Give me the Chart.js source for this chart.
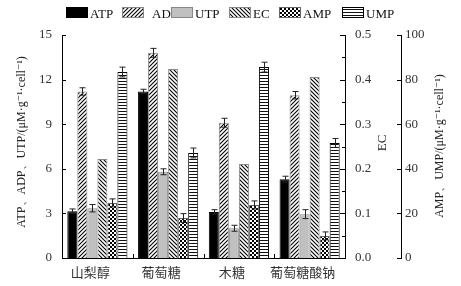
<!DOCTYPE html>
<html>
<head>
<meta charset="utf-8">
<script src="https://cdn.jsdelivr.net/npm/chart.js@4.4.0/dist/chart.umd.min.js"></script>
<style>
    html, body { margin: 0; padding: 0; background: #fff; }
</style>
</head>
<body>
<canvas id="chart" width="461" height="286"></canvas>
<script>
// data
const categories = ['山梨醇', '葡萄糖', '木糖', '葡萄糖酸钠'];
const atp = [3.15, 11.2, 3.1, 5.3];
const atpErr = [0.15, 0.15, 0.15, 0.2];
const adp = [11.2, 13.8, 9.1, 10.95];
const adpErr = [0.25, 0.3, 0.3, 0.25];
const utp = [3.35, 5.8, 2.0, 2.95];
const utpErr = [0.25, 0.2, 0.2, 0.3];
const ec = [0.222, 0.424, 0.211, 0.406];
const amp = [24.7, 17.9, 23.8, 9.9];
const ampErr = [1.8, 2.0, 1.8, 1.8];
const ump = [83.4, 47.1, 85.6, 51.6];
const umpErr = [2.2, 2.2, 2.2, 2.0];

const SERIF = "'Liberation Serif', 'DejaVu Serif', serif";
const CJK = "'Noto Sans CJK SC', sans-serif";

function makePattern(w, h, draw) {
    const c = document.createElement('canvas');
    c.width = w; c.height = h;
    const g = c.getContext('2d');
    g.fillStyle = '#fff';
    g.fillRect(0, 0, w, h);
    draw(g);
    return g.createPattern(c, 'repeat');
}

const fwdHatch = makePattern(4, 4, g => {
    g.strokeStyle = '#000'; g.lineWidth = 1.1;
    g.beginPath();
    g.moveTo(-1, 5); g.lineTo(5, -1);
    g.moveTo(-1, 1); g.lineTo(1, -1);
    g.moveTo(3, 5); g.lineTo(5, 3);
    g.stroke();
});
const backHatch = makePattern(4, 4, g => {
    g.strokeStyle = '#000'; g.lineWidth = 1.1;
    g.beginPath();
    g.moveTo(-1, -1); g.lineTo(5, 5);
    g.moveTo(3, -1); g.lineTo(5, 1);
    g.moveTo(-1, 3); g.lineTo(1, 5);
    g.stroke();
});
const checker = makePattern(4, 4, g => {
    g.fillStyle = '#000';
    g.fillRect(0, 0, 2, 2);
    g.fillRect(2, 2, 2, 2);
});
const hLines = makePattern(4, 3, g => {
    g.fillStyle = '#111';
    g.fillRect(0, 0, 4, 1);
});

const datasets = [
    { label: 'ATP', data: atp, errors: atpErr, yAxisID: 'y', backgroundColor: '#000', borderColor: '#000' },
    { label: 'ADP', data: adp, errors: adpErr, yAxisID: 'y', backgroundColor: fwdHatch, borderColor: '#888' },
    { label: 'UTP', data: utp, errors: utpErr, yAxisID: 'y', backgroundColor: '#c0c0c0', borderColor: '#888' },
    { label: 'EC', data: ec, yAxisID: 'y1', backgroundColor: backHatch, borderColor: '#888' },
    { label: 'AMP', data: amp, errors: ampErr, yAxisID: 'y2', backgroundColor: checker, borderColor: '#666' },
    { label: 'UMP', data: ump, errors: umpErr, yAxisID: 'y2', backgroundColor: hLines, borderColor: '#000' }
];
datasets.forEach(d => { d.borderWidth = 1; d.categoryPercentage = 0.85; d.barPercentage = 1.0; });

// legend box positions
const legendX = [66, 122, 171, 229, 279, 342];

const errorBars = {
    id: 'errorBars',
    afterDatasetsDraw(chart) {
        const ctx = chart.ctx;
        ctx.save();
        ctx.strokeStyle = '#222';
        ctx.lineWidth = 1;
        chart.data.datasets.forEach((ds, i) => {
            if (!ds.errors) return;
            const meta = chart.getDatasetMeta(i);
            const scale = chart.scales[ds.yAxisID];
            meta.data.forEach((bar, j) => {
                const x = Math.round(bar.x) + 0.5;
                const top = scale.getPixelForValue(ds.data[j] + ds.errors[j]);
                const bot = scale.getPixelForValue(ds.data[j] - ds.errors[j]);
                ctx.beginPath();
                ctx.moveTo(x, top); ctx.lineTo(x, bot);
                ctx.moveTo(x - 3, top); ctx.lineTo(x + 3, top);
                ctx.moveTo(x - 3, bot); ctx.lineTo(x + 3, bot);
                ctx.stroke();
            });
        });
        ctx.restore();
    }
};

const decorations = {
    id: 'decorations',
    afterDraw(chart) {
        const ctx = chart.ctx;
        const { y, y1, y2, x } = chart.scales;
        const area = chart.chartArea;
        ctx.save();
        ctx.strokeStyle = '#000';
        ctx.lineWidth = 1;
        ctx.beginPath();
        // inward ticks
        y.ticks.forEach(t => {
            const py = Math.round(y.getPixelForValue(t.value)) + 0.5;
            ctx.moveTo(area.left, py); ctx.lineTo(area.left + 4, py);
        });
        for (let v = 0; v <= 0.5001; v += 0.05) {
            const py = Math.round(y1.getPixelForValue(v)) + 0.5;
            const major = Math.round(v * 100) % 10 === 0;
            ctx.moveTo(area.right, py); ctx.lineTo(area.right - (major ? 5 : 3), py);
        }
        y2.ticks.forEach(t => {
            const py = Math.round(y2.getPixelForValue(t.value)) + 0.5;
            ctx.moveTo(y2.left, py); ctx.lineTo(y2.left - 4, py);
        });
        for (let i = 1; i < categories.length; i++) {
            const px = Math.round((x.getPixelForValue(i - 1) + x.getPixelForValue(i)) / 2) + 0.5;
            ctx.moveTo(px, area.bottom); ctx.lineTo(px, area.bottom - 4);
        }
        ctx.stroke();

        // axis titles, all reading bottom to top
        ctx.fillStyle = '#222';
        ctx.textAlign = 'center';
        ctx.textBaseline = 'middle';
        const vText = (txt, cx, cy, font) => {
            ctx.save();
            ctx.translate(cx, cy);
            ctx.rotate(-Math.PI / 2);
            ctx.font = font;
            ctx.fillText(txt, 0, 0);
            ctx.restore();
        };
        vText('ATP、ADP、UTP/(μM·g⁻¹·cell⁻¹)', 22, 142, '12px ' + SERIF);
        vText('EC', 383, 143, '13px ' + SERIF);
        vText('AMP、UMP/(μM·g⁻¹·cell⁻¹)', 440, 146, '12px ' + SERIF);

        // legend
        ctx.textAlign = 'left';
        ctx.textBaseline = 'alphabetic';
        ctx.font = '13px ' + SERIF;
        chart.data.datasets.forEach((ds, i) => {
            const bx = legendX[i];
            ctx.fillStyle = ds.backgroundColor;
            ctx.fillRect(bx, 7, 22, 11);
            ctx.strokeStyle = ds.borderColor;
            ctx.strokeRect(bx + 0.5, 7.5, 21, 10);
            ctx.fillStyle = '#111';
            ctx.fillText(ds.label, bx + 24 + (i === 1 ? 6 : 0), 18);
        });
        ctx.restore();
    }
};

const tickFont = { family: SERIF, size: 13 };

new Chart(document.getElementById('chart'), {
    type: 'bar',
    data: { labels: categories, datasets },
    options: {
        responsive: false,
        animation: false,
        devicePixelRatio: 1,
        layout: { padding: { top: 35, left: 0, right: 0, bottom: 0 } },
        plugins: { legend: { display: false }, tooltip: { enabled: false } },
        scales: {
            x: {
                grid: { display: false, drawTicks: false },
                border: { display: true, color: '#000', width: 1 },
                ticks: { font: { family: CJK, size: 13 }, color: '#333', padding: 6, labelOffset: -7, maxRotation: 0 },
                afterFit: s => { s.height = 28; }
            },
            y: {
                position: 'left',
                min: 0, max: 15,
                grid: { display: false, drawTicks: false },
                border: { display: true, color: '#000', width: 1 },
                ticks: { stepSize: 3, font: tickFont, color: '#333', padding: 10 },
                afterFit: s => { s.width = 62; }
            },
            y1: {
                position: 'right',
                weight: 0,
                min: 0, max: 0.5,
                grid: { display: false, drawTicks: false },
                border: { display: true, color: '#000', width: 1 },
                ticks: { stepSize: 0.1, font: tickFont, color: '#333', padding: 10, callback: v => v.toFixed(1) },
                afterFit: s => { s.width = 56; }
            },
            y2: {
                position: 'right',
                weight: 1,
                min: 0, max: 100,
                grid: { display: false, drawTicks: false },
                border: { display: true, color: '#000', width: 1 },
                ticks: { stepSize: 20, font: tickFont, color: '#333', padding: 4 },
                afterFit: s => { s.width = 60; }
            }
        }
    },
    plugins: [errorBars, decorations]
});
</script>
</body>
</html>
